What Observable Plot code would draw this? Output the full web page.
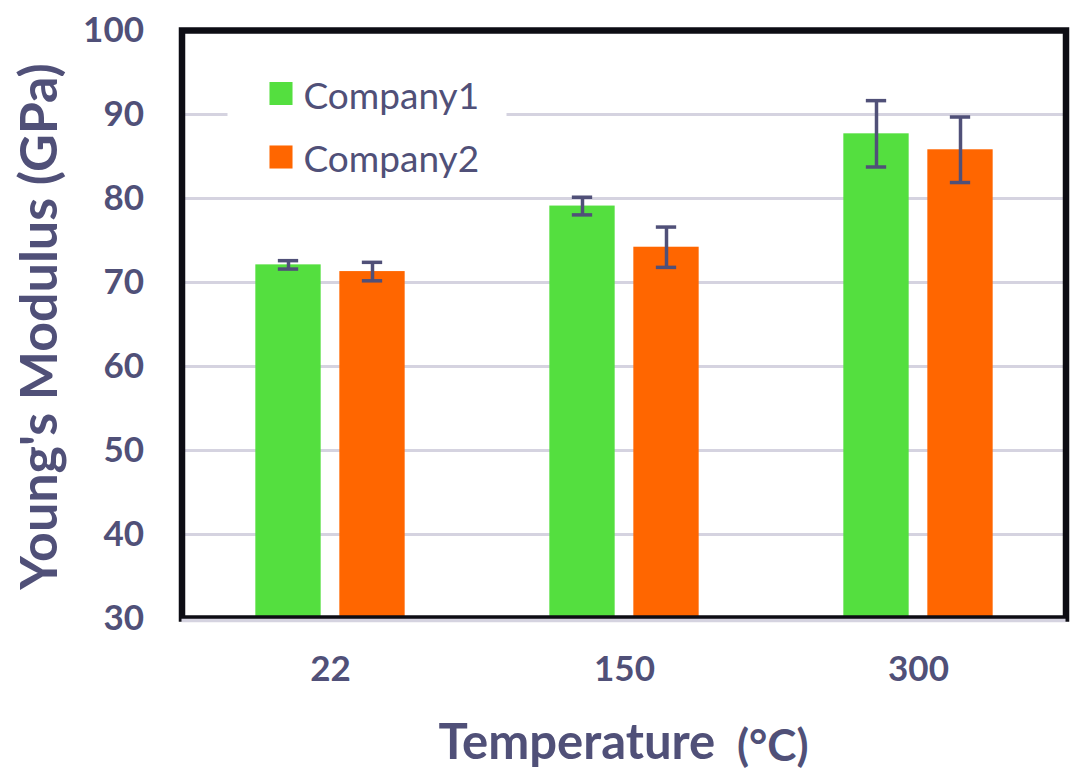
<!DOCTYPE html>
<html>
<head>
<meta charset="utf-8">
<script src="https://cdn.jsdelivr.net/npm/d3@7"></script>
<script src="https://cdn.jsdelivr.net/npm/@observablehq/plot@0.6"></script>
<style>
  html, body { margin: 0; padding: 0; background: #ffffff; }
  #chart svg { display: block; }
</style>
</head>
<body>
<div id="chart"></div>
<script>
// ---- data ----
const temperatures = ["22", "150", "300"];
const companies = ["Company1", "Company2"];
const company1 = [72.1, 79.1, 87.7];
const company1Err = [0.5, 1.05, 3.95];
const company2 = [71.3, 74.2, 85.8];
const company2Err = [1.1, 2.4, 3.9];
const yTicks = [30, 40, 50, 60, 70, 80, 90, 100];
const colors = ["#54df3f", "#ff6600"];

// ---- layout ----
const W = 1082, H = 778;
const ml = 181.5, mr = 16.5, mt = 30, mb = 160;
const band = (W - ml - mr) / temperatures.length;
const barW = 66, gap = 18, capW = 21;
const off = (barW + gap) / 2;           // offset of each bar center from the band center
const ink = "#505078";

const rows = [];
temperatures.forEach((t, i) => {
  rows.push({temp: t, company: companies[0], value: company1[i], err: company1Err[i], side: -1});
  rows.push({temp: t, company: companies[1], value: company2[i], err: company2Err[i], side: 1});
});
const left = rows.filter(d => d.side < 0);
const right = rows.filter(d => d.side > 0);
const inNear = band / 2 - off - barW / 2;   // inset on the outer side
const inFar = band / 2 + off - barW / 2;    // inset on the inner side
const capInset = (band - capW) / 2;

const legendRows = companies.map((c) => ({company: c}));
const legendDy = [63, 126.5];

const legendMarks = legendRows.flatMap((d, i) => [
  Plot.dot([d], {frameAnchor: "top-left", dx: 99, dy: legendDy[i], symbol: "square", r: 13, fill: "company"}),
  Plot.text([d], {frameAnchor: "top-left", dx: 121.5, dy: legendDy[i] - 11, text: "company", textAnchor: "start",
    fontSize: 37, fontWeight: "normal", fill: ink})
]);

const errMarks = [[left, -off], [right, off]].flatMap(([data, dx]) => [
  Plot.ruleX(data, {x: "temp", y1: d => d.value - d.err, y2: d => d.value + d.err, dx, stroke: ink, strokeWidth: 3.5}),
  Plot.tickY(data, {x: "temp", y: d => d.value - d.err, dx, insetLeft: capInset, insetRight: capInset, stroke: ink, strokeWidth: 3.5}),
  Plot.tickY(data, {x: "temp", y: d => d.value + d.err, dx, insetLeft: capInset, insetRight: capInset, stroke: ink, strokeWidth: 3.5})
]);

const chart = Plot.plot({
  width: W, height: H,
  marginLeft: ml, marginRight: mr, marginTop: mt, marginBottom: mb,
  style: {fontFamily: "Lato", fontSize: "35px", fontWeight: "bold", color: ink, background: "#ffffff"},
  x: {type: "band", domain: temperatures, padding: 0, label: null, tickSize: 0, tickPadding: 38},
  y: {domain: [yTicks[0], yTicks[yTicks.length - 1]], ticks: yTicks, tickSize: 0, tickPadding: 38, label: null},
  color: {domain: companies, range: colors},
  marks: [
    Plot.ruleY(yTicks.slice(1, -1), {stroke: "#d5d3e0", strokeWidth: 3}),
    // white legend box hiding the grid
    Plot.frame({fill: "#ffffff", stroke: "none", insetLeft: 45.5, insetRight: 559.5, insetTop: 25, insetBottom: 433}),
    // bars
    Plot.barY(left, {x: "temp", y1: yTicks[0], y2: "value", fill: "company", insetLeft: inNear, insetRight: inFar}),
    Plot.barY(right, {x: "temp", y1: yTicks[0], y2: "value", fill: "company", insetLeft: inFar, insetRight: inNear}),
    // error bars
    ...errMarks,
    // legend inside the frame
    ...legendMarks,
    // frame
    Plot.frame({stroke: "#0d0d14", strokeWidth: 6.5}),
    Plot.ruleY([yTicks[0]], {stroke: "#d5d3e0", strokeWidth: 3.5, dy: 2}),
    // axis titles
    Plot.text(["Young's Modulus (GPa)"], {frameAnchor: "left", dx: 40 - ml, dy: 2, rotate: -90, textAnchor: "middle",
      fontSize: 52, fontWeight: "bold", fill: ink}),
    Plot.text(["Temperature"], {frameAnchor: "bottom", dx: -185.5, dy: 140, textAnchor: "start",
      fontSize: 49, fontWeight: "bold", fill: ink}),
    Plot.text(["(°C)"], {frameAnchor: "bottom", dx: 184.5, dy: 142, textAnchor: "end",
      fontSize: 44, fontWeight: "bold", fill: ink})
  ]
});
document.getElementById("chart").appendChild(chart);
</script>
</body>
</html>
